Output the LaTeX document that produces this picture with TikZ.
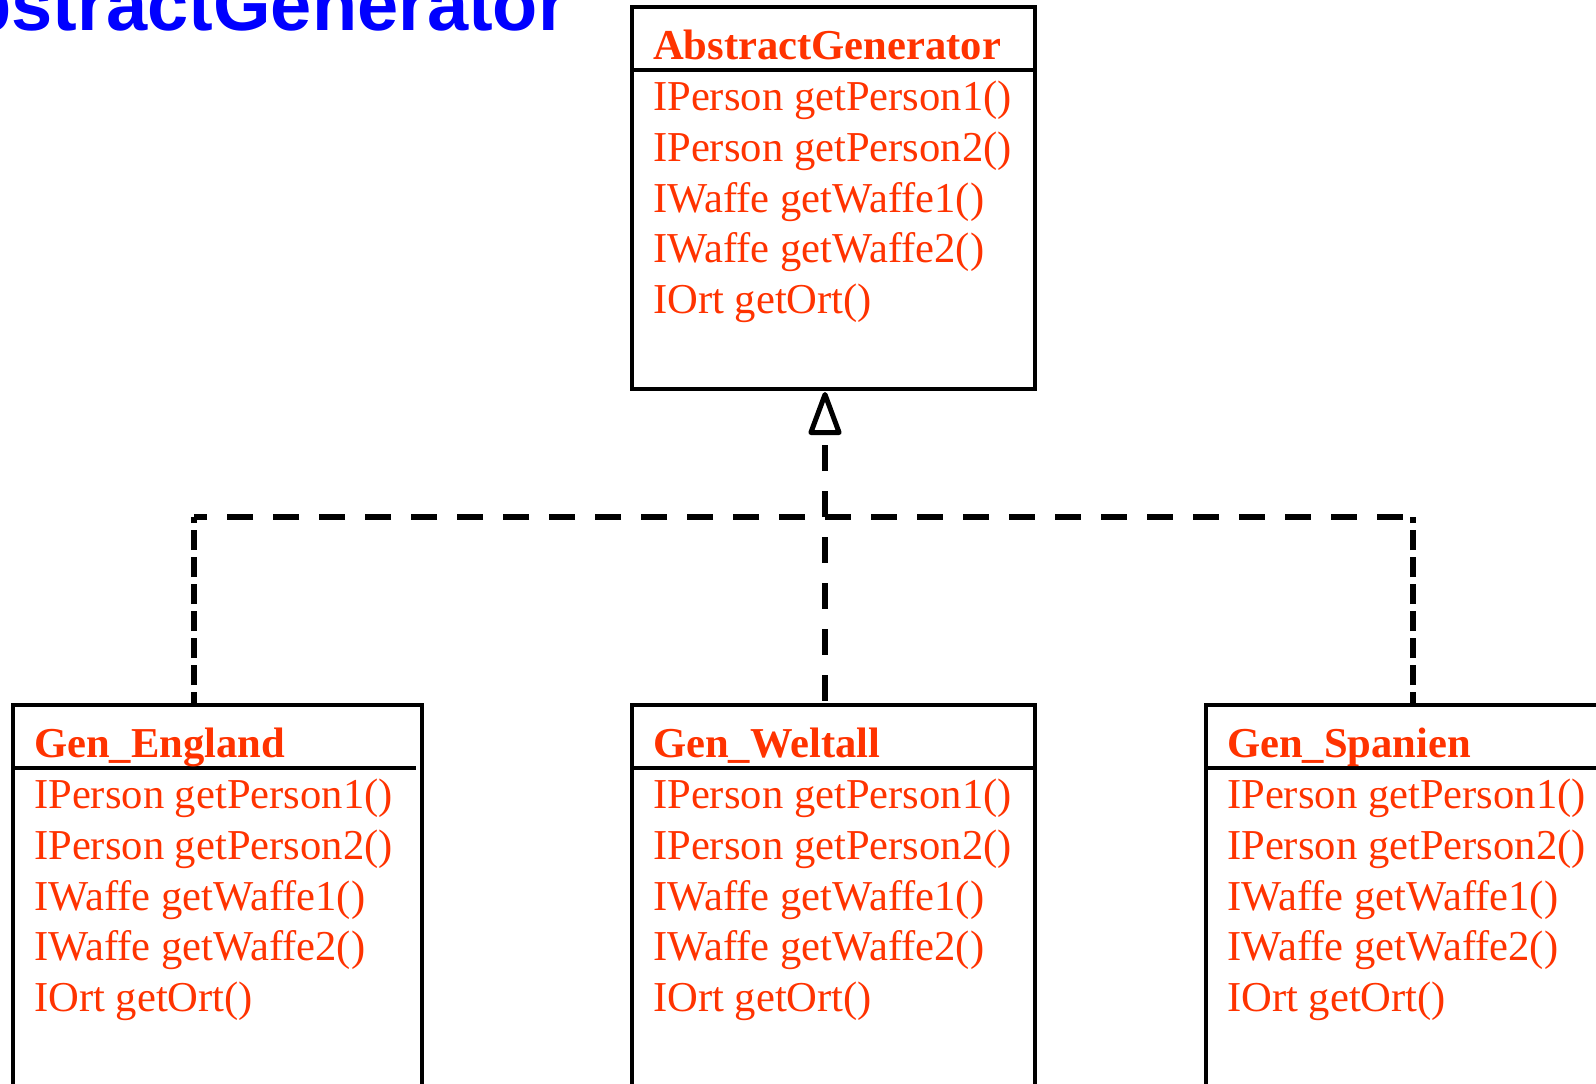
\documentclass[tikz,border=0pt]{standalone}
\usepackage{fontspec}
\setmainfont{Liberation Serif}
\newfontfamily\titlefont{Liberation Sans}
\usetikzlibrary{arrows.meta,calc}
\definecolor{umlred}{RGB}{255,51,0}
\definecolor{titleblue}{RGB}{0,0,255}

\newcommand\umlclass[6]{% name, left, top, width, title, separator end shift
  \node[umlbox, minimum width=#4pt] (#1) at (#2,#3) {};
  \draw[sepline] ([yshift=-63pt]#1.north west) -- ([xshift=#6pt,yshift=-63pt]#1.north east);
  \node[ctitle] (#1-title) at ($(#1.north west)+(21,52)$) {#5};
  \node[cmember] (#1-m1) at ($(#1.north west)+(21,103)$) {IPerson getPerson1()};
  \node[cmember] (#1-m2) at ($(#1.north west)+(21,154)$) {IPerson getPerson2()};
  \node[cmember] (#1-m3) at ($(#1.north west)+(21,205)$) {IWaffe getWaffe1()};
  \node[cmember] (#1-m4) at ($(#1.north west)+(21,255)$) {IWaffe getWaffe2()};
  \node[cmember] (#1-m5) at ($(#1.north west)+(21,306)$) {IOrt getOrt()};
}

\begin{document}
\begin{tikzpicture}[x=1pt,y=-1pt,
  umlbox/.style={draw, line width=3.4pt, inner sep=0pt, outer sep=0pt, minimum height=382pt, anchor=north west},
  sepline/.style={line width=4pt},
  ctitle/.style={anchor=base west, inner sep=0pt, text=umlred, font=\fontsize{42.6}{50}\selectfont\bfseries},
  cmember/.style={anchor=base west, inner sep=0pt, text=umlred, font=\fontsize{42.6}{50}\selectfont},
  vdep/.style={line width=5.5pt, dash pattern=on 20pt off 7pt, dash phase=7pt},
  hdep/.style={line width=5.5pt, dash pattern=on 26pt off 20pt},
  hdepshift/.style={line width=5.5pt, dash pattern=on 26pt off 20pt, dash phase=26pt},
  realize/.style={-{Triangle[open, round, length=48pt, width=34pt, line width=5pt]}},
]
\useasboundingbox (0,0) rectangle (1596,1084);
\clip (0,0) rectangle (1596,1084);
\fill[white] (0,0) rectangle (1596,1084);

\node[anchor=base west, inner sep=0pt, text=titleblue,
      font=\titlefont\fontsize{74}{80}\selectfont\bfseries] (title) at (-87,30) {AbstractGenerator};

\umlclass{abs}{632}{7}{403}{AbstractGenerator}{0}
\umlclass{eng}{13}{705}{409}{Gen\_England}{-6}
\umlclass{wel}{632}{705}{403}{Gen\_Weltall}{0}
\umlclass{spa}{1206}{705}{500}{Gen\_Spanien}{0}

\coordinate (J) at (825,517);
\coordinate (EngC) at (194,517);
\coordinate (SpaC) at (1413,517);
\coordinate (Atip) at ($(J |- abs.south)+(0,3)$);

\draw[vdep] (EngC |- eng.north) -- (EngC);
\draw[hdepshift] (J) -- (EngC);
\draw[vdep] (SpaC |- spa.north) -- (SpaC);
\draw[hdep] (J) -- (SpaC);
\draw[hdepshift] (J) -- (J |- wel.north);
\draw[hdep, realize] (J) -- (Atip);
\end{tikzpicture}
\end{document}
